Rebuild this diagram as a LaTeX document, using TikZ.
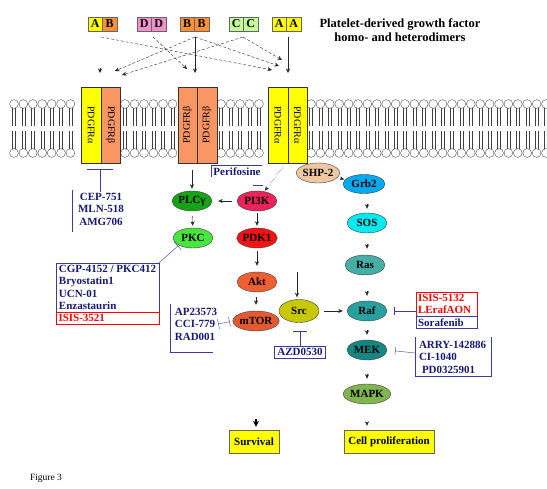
\documentclass[tikz,border=0pt]{standalone}
\usepackage{fontspec}
\setmainfont{Liberation Serif}
\usepackage{xcolor}
\usetikzlibrary{shapes.geometric,arrows,arrows.meta,positioning}

\definecolor{ylw}{RGB}{255,255,0}
\definecolor{ligB}{RGB}{250,145,55}
\definecolor{ligD}{RGB}{240,145,205}
\definecolor{ligC}{RGB}{195,250,155}
\definecolor{recb}{RGB}{250,150,100}
\definecolor{navy}{RGB}{25,25,115}
\definecolor{boxblue}{RGB}{60,60,160}
\definecolor{plcg}{RGB}{20,165,20}
\definecolor{pkcg}{RGB}{70,230,60}
\definecolor{pikc}{RGB}{235,35,90}
\definecolor{pdkc}{RGB}{240,20,20}
\definecolor{aktc}{RGB}{240,95,50}
\definecolor{srcc}{RGB}{200,200,0}
\definecolor{shpc}{RGB}{240,200,160}
\definecolor{grbc}{RGB}{0,170,240}
\definecolor{sosc}{RGB}{0,235,240}
\definecolor{rasc}{RGB}{70,175,165}
\definecolor{rafc}{RGB}{40,160,160}
\definecolor{mekc}{RGB}{20,135,130}
\definecolor{mapkc}{RGB}{130,180,80}

\tikzset{
  mol/.style={ellipse, draw=black!75, minimum width=40pt, minimum height=20pt, inner sep=0pt,
              font=\fontsize{11}{12}\selectfont\bfseries},
  lig/.style={draw=black!60, minimum width=14.5pt, minimum height=14pt, inner sep=0pt,
              font=\fontsize{12}{12}\selectfont\bfseries},
  rec/.style={draw=black!80, minimum width=76pt, minimum height=19.5pt, inner sep=0pt,
              font=\fontsize{10}{10}\selectfont},
  drug/.style={text=navy, font=\fontsize{11}{12.5}\selectfont\bfseries, inner sep=1pt},
  outcome/.style={draw=black!60, fill=ylw, minimum height=23pt, inner sep=2pt,
              font=\fontsize{11}{12}\selectfont\bfseries},
  tip/.style={-{Stealth[length=4.5pt,width=4pt]}, black!85},
  bind/.style={tip, dash pattern=on 3pt off 2pt},
  inhib/.style={boxblue, -{Bar[width=10pt]}},
  lipid/.style={black!75, line width=0.35pt},
}

\begin{document}
\begin{tikzpicture}[x=1pt, y=-1pt]
\fill[white] (0,0) rectangle (547,489);
\useasboundingbox (0,0) rectangle (547,489);

% membrane
\foreach \a/\b/\c in {14/23.4/72, 125/134.5/174, 221/230.5/262, 311/320.4/547} {
  \foreach \x in {\a,\b,...,\c} {
    \draw[lipid] (\x-1.5,108.4) -- (\x-1.5,126) (\x+1.5,108.4) -- (\x+1.5,126)
                 (\x-1.5,131) -- (\x-1.5,148.6) (\x+1.5,131) -- (\x+1.5,148.6);
    \draw[lipid, fill=white] (\x,104) circle (4.4pt) (\x,153) circle (4.4pt);
  }
}

% ligands
\node[lig, fill=ylw]  (ab1) at (95.25,24)  {A};
\node[lig, fill=ligB] (ab2) at (109.75,24) {B};
\node[lig, fill=ligD] (dd1) at (144.25,24) {D};
\node[lig, fill=ligD] (dd2) at (158.75,24) {D};
\node[lig, fill=ligB] (bb1) at (187.25,24) {B};
\node[lig, fill=ligB] (bb2) at (201.75,24) {B};
\node[lig, fill=ligC] (cc1) at (236.25,24) {C};
\node[lig, fill=ligC] (cc2) at (250.75,24) {C};
\node[lig, fill=ylw]  (aa1) at (279.25,24) {A};
\node[lig, fill=ylw]  (aa2) at (293.75,24) {A};
\node[font=\fontsize{12.5}{14}\selectfont\bfseries, align=center] (title) at (400,30)
  {Platelet-derived growth factor\\homo- and heterodimers};

% receptors
\node[rec, fill=ylw,  rotate=-90] (r1a) at (91.2,125)  {PDGFRα};
\node[rec, fill=recb, rotate=-90] (r1b) at (110.7,125) {PDGFRβ};
\node[rec, fill=recb, rotate=90]  (r2a) at (187.5,125) {PDGFRβ};
\node[rec, fill=recb, rotate=90]  (r2b) at (207,125)   {PDGFRβ};
\node[rec, fill=ylw,  rotate=-90] (r3a) at (278,125)   {PDGFRα};
\node[rec, fill=ylw,  rotate=-90] (r3b) at (297.5,125) {PDGFRα};

% ligand binding
\coordinate (sAB) at (101,37);
\coordinate (sDD) at (153,37);
\coordinate (sBB) at (195,37);
\coordinate (sCC) at (243,37);
\coordinate (sAA) at (288,37);
\coordinate (t1a) at (100,68);
\coordinate (t1a2) at (100,73);
\coordinate (t1b) at (115,71);
\coordinate (t1c) at (122,75);
\coordinate (t2a) at (187,69);
\coordinate (t2b) at (195,73);
\coordinate (t3a) at (272,70);
\coordinate (t3b) at (279,66);
\coordinate (t3c) at (282,60);
\coordinate (t3d) at (288,73);
\draw[tip]  (t1a) -- (t1a2);
\draw[bind] (sAB) -- (t3a);
\draw[bind] (sDD) -- (t2a);
\draw[bind] (sBB) -- (t1b);
\draw[tip]  (sBB) -- (t2b);
\draw[bind] (sBB) -- (t3b);
\draw[bind] (sCC) -- (t1c);
\draw[bind] (sCC) -- (t3c);
\draw[tip]  (sAA) -- (t3d);

% signalling molecules
\node[mol, fill=plcg]  (plc)  at (192,201) {PLCγ};
\node[mol, fill=pkcg]  (pkc)  at (193,238) {PKC};
\node[mol, fill=pikc]  (pi3k) at (257,201) {PI3K};
\node[mol, fill=pdkc]  (pdk)  at (257,238) {PDK1};
\node[mol, fill=aktc]  (akt)  at (257,282) {Akt};
\node[mol, fill=aktc!95!black] (mtor) at (256,321) {mTOR};
\node[mol, fill=srcc, minimum height=23pt] (src) at (299,311) {Src};
\node[mol, fill=shpc]  (shp)  at (318,173) {SHP-2};
\node[mol, fill=grbc, minimum width=42pt, minimum height=19pt] (grb) at (364,184) {Grb2};
\node[mol, fill=sosc]  (sos)  at (367,223) {SOS};
\node[mol, fill=rasc]  (ras)  at (365,265) {Ras};
\node[mol, fill=rafc]  (raf)  at (367,311) {Raf};
\node[mol, fill=mekc]  (mek)  at (367,350) {MEK};
\node[mol, fill=mapkc] (mapk) at (367,394) {MAPK};

\node[outcome, minimum width=50pt] (surv)   at (254,441.5) {Survival};
\node[outcome, minimum width=90pt] (prolif) at (389,441.5) {Cell proliferation};

% activation
\coordinate (r2out) at (192,170);
\coordinate (r3out) at (283,167);
\coordinate (srcin) at (297,272);
\draw[tip, shorten >=2pt] (r2out) -- (plc);
\draw[tip, densely dotted, shorten >=1pt] (r3out) -- (pi3k);
\draw[tip, shorten <=5pt, shorten >=6pt] (pi3k) -- (plc);
\draw[tip, shorten <=5pt, shorten >=2pt] (plc) -- (pkc);
\draw[tip, shorten <=2pt, shorten >=2pt] (pi3k) -- (pdk);
\draw[tip, shorten <=3pt, shorten >=6pt] (pdk) -- (akt);
\draw[tip, shorten <=5pt, shorten >=6pt] (akt.south -| mtor) -- (mtor);
\draw[tip, shorten >=2pt] (srcin) -- (srcin |- src.north);
\draw[tip, shorten <=5pt, shorten >=4pt] (src) -- (raf);
\draw[tip, densely dotted, shorten >=1pt] (shp) -- (grb);
\draw[tip, shorten <=10pt, shorten >=4pt] (sos.north |- grb.south) -- (sos.north);
\draw[tip, shorten <=11pt, shorten >=6pt] (sos) -- (ras.north -| sos);
\draw[tip, shorten <=16pt, shorten >=5pt] (raf.north |- ras.south) -- (raf.north);
\draw[tip, shorten <=9pt, shorten >=5pt] (raf) -- (mek);
\draw[tip, shorten <=14pt, shorten >=5pt] (mek) -- (mapk);
\draw[-{Stealth[length=6pt,width=6pt]}, line width=1.3pt, shorten <=88pt, shorten >=3pt]
  (mtor.south) -- (mtor.south |- surv.north);
\draw[tip, shorten <=19pt, shorten >=4pt] (mapk.south) -- (mapk.south |- prolif.north);

% inhibitors
\node[drug, align=center] (cep) at (101,209) {CEP-751\\MLN-518\\AMG706};
\draw[boxblue] (72,190) -- (72,232);
\coordinate (cepT) at (100,169);
\draw[inhib, -{Bar[width=26pt]}] (cep.north -| cepT) -- (cepT);

\node[drug] (peri) at (237,172) {Perifosine};
\draw[boxblue] (211,177) -- (211,165) -- (262,165);
\draw[boxblue, line width=0.8pt] (253,185) -- (263,185);

\node[drug, draw=boxblue, align=left, minimum width=103pt,
      minimum height=49pt, inner sep=2pt] (pkci) at (107.5,287.5)
  {CGP-4152 / PKC412\\Bryostatin1\\UCN-01\\Enzastaurin};
\node[drug, draw=red, text=red, align=left, text width=98pt, minimum width=103pt,
      minimum height=12pt, inner sep=0.5pt, below=0pt of pkci] (isis) {ISIS-3521};
\draw[inhib, shorten >=1pt] (pkci.north east) -- (pkc.south west);

\node[drug, align=left] (mtori) at (196,324) {AP23573\\CCI-779\\RAD001};
\draw[boxblue] (170,304) -- (170,352) -- (213,352);
\draw[boxblue, {Bar[width=10pt]}-{Bar[width=10pt]}, shorten >=3pt] (mtori.east) -- (mtor.west);

\node[drug, draw=boxblue, minimum width=51pt, minimum height=12pt, inner sep=0.5pt]
  (azd) at (300,352) {AZD0530};
\draw[inhib, -{Bar[width=14pt]}, shorten >=8pt] (azd.north) -- (azd.north |- src.south);

\node[drug, draw=red, text=red, align=left, text width=57pt, minimum width=61pt,
      minimum height=24pt] (rafi) at (446.5,304) {ISIS-5132\\LErafAON};
\node[drug, draw=boxblue, align=left, text width=57pt, minimum width=61pt,
      minimum height=12pt, inner sep=0.5pt, below=0pt of rafi] (sora) {Sorafenib};
\draw[inhib, -{Bar[width=8pt]}, shorten >=7pt] (rafi.west |- raf) -- (raf.east);

\node[drug, align=left, text width=72pt] (meki) at (455,357)
  {ARRY-142886\\CI-1040\\\hspace*{3pt}PD0325901};
\draw[boxblue] (415,337) -- (415,376) -- (491,376) -- (491,337);
\coordinate (mekbox) at (415,353);
\draw[inhib, -{Bar[width=8pt]}, shorten >=8pt] (mekbox) -- (mek.east);

\node[font=\fontsize{9.5}{10}\selectfont] (fig) at (46,478) {Figure 3};
\end{tikzpicture}
\end{document}
